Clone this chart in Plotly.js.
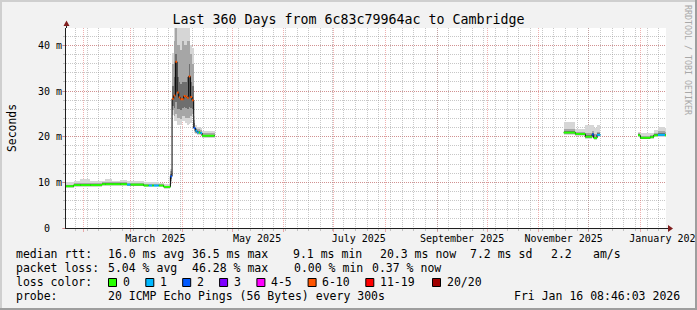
<!DOCTYPE html>
<html><head><meta charset="utf-8">
<script src="https://cdn.plot.ly/plotly-3.0.1.min.js"></script>
<style>html,body{margin:0;padding:0;background:#f2f2f2;}#chart{width:697px;height:310px;}</style>
</head><body><div id="chart"></div>
<script>
// ---------------- data ----------------
const rangeStart = '2025-01-21 08:46:03';
const rangeEnd   = '2026-01-16 08:46:03';

const runStart = [
 '2025-01-21 08:46','2025-01-26','2025-01-30','2025-02-05','2025-02-12','2025-02-14','2025-02-18','2025-02-23','2025-02-27','2025-03-01',
 '2025-03-09','2025-03-12','2025-03-14','2025-03-15','2025-03-18','2025-03-21','2025-03-25',
 '2025-03-26','2025-03-27','2025-03-28','2025-03-29','2025-03-30','2025-03-31','2025-04-01','2025-04-02','2025-04-03','2025-04-04','2025-04-05','2025-04-06','2025-04-07',
 '2025-04-08','2025-04-09','2025-04-10','2025-04-11','2025-04-12','2025-04-13',
 '2025-11-16','2025-11-23','2025-11-29','2025-12-03','2025-12-04','2025-12-06',
 '2025-12-30 14:00','2026-01-01','2026-01-07','2026-01-09','2026-01-11 12:00','2026-01-15 18:00'
];
const runEnd = [
 '2025-01-26','2025-01-30','2025-02-05','2025-02-12','2025-02-14','2025-02-18','2025-02-23','2025-02-27','2025-03-01','2025-03-09',
 '2025-03-12','2025-03-14','2025-03-15','2025-03-18','2025-03-21','2025-03-25','2025-03-26',
 '2025-03-27','2025-03-28','2025-03-29','2025-03-30','2025-03-31','2025-04-01','2025-04-02','2025-04-03','2025-04-04','2025-04-05','2025-04-06','2025-04-07','2025-04-08',
 '2025-04-09','2025-04-10','2025-04-11','2025-04-12','2025-04-13','2025-04-20 12:00',
 '2025-11-23','2025-11-29','2025-12-03','2025-12-04','2025-12-06','2025-12-08',
 '2026-01-01','2026-01-07','2026-01-09','2026-01-11 12:00','2026-01-15 18:00','2026-01-16 08:46'
];
// median rtt (ms)
const runMedian = [
 9.15,9.4,9.4,9.4,9.6,9.6,9.6,9.6,9.5,9.5,
 9.3,9.3,9.3,9.3,9.3,9.0,11.3,
 28.3,29.0,36.4,29.7,28.6,28.2,28.2,28.9,28.8,28.5,33.2,28.7,28.0,
 21.9,21.3,20.9,20.9,20.8,20.2,
 20.9,20.6,20.0,20.5,19.7,20.4,
 20.3,19.75,19.9,20.3,20.4,20.3
];
// loss bucket index (0:'0',1:'1',2:'2',3:'3',4:'4-5',5:'6-10',6:'11-19',7:'20/20')
const runLoss = [
 0,0,0,0,0,0,0,0,1,0,
 0,1,0,1,0,0,2,
 5,5,5,5,5,5,5,5,5,5,5,5,5,
 2,1,1,0,1,0,
 0,0,0,2,0,1,
 0,0,0,0,1,0
];
// smoke (ping spread, ms)
const smokeLo = [
 8.85,9.0,9.0,9.0,9.2,9.2,9.2,9.2,9.1,9.1,
 8.9,8.9,8.9,8.9,8.9,8.5,9.6,
 24.8,23.4,23.4,22.6,22.6,22.6,23.4,23.4,23.0,22.6,22.8,23.0,24.5,
 20.8,20.5,20.4,20.4,20.3,19.8,
 20.4,20.2,19.6,19.8,19.3,19.9,
 19.9,19.4,19.5,19.9,20.0,19.9
];
const smokeP10 = [
 9.0,9.2,9.2,9.2,9.4,9.4,9.4,9.4,9.3,9.3,
 9.1,9.1,9.1,9.1,9.1,8.7,10.2,
 25.8,24.5,25.0,24.0,24.0,23.8,24.5,24.5,24.2,24.0,24.2,24.5,25.0,
 21.3,20.8,20.6,20.6,20.5,20.0,
 20.6,20.4,19.8,20.0,19.5,20.1,
 20.1,19.5,19.7,20.1,20.2,20.1
];
const smokeQ1 = [
 9.1,9.3,9.3,9.3,9.5,9.5,9.5,9.5,9.4,9.4,
 9.2,9.2,9.2,9.2,9.2,8.9,10.8,
 26.8,26.2,27.5,26.0,26.0,25.8,26.2,26.5,26.2,26.0,26.5,26.2,26.0,
 21.6,21.0,20.7,20.7,20.6,20.1,
 20.7,20.5,19.9,20.2,19.6,20.2,
 20.2,19.6,19.8,20.2,20.3,20.2
];
const smokeQ3 = [
 9.3,9.55,9.6,9.6,9.8,9.8,9.8,9.8,9.7,9.7,
 9.5,9.5,9.5,9.5,9.5,9.2,11.8,
 31.0,33.0,38.0,33.0,32.0,31.5,32.0,32.0,32.0,33.0,36.0,32.0,31.0,
 23.0,21.6,21.2,21.2,21.0,20.4,
 21.2,20.9,20.3,20.8,20.0,20.7,
 20.5,19.9,20.1,20.5,20.7,20.5
];
const smokeP90 = [
 9.5,9.8,9.9,9.8,10.0,10.1,10.0,10.0,9.9,9.9,
 9.7,9.7,9.7,9.7,9.6,9.3,12.4,
 36.0,41.0,44.0,40.0,40.0,39.0,41.0,40.0,40.0,41.0,41.0,38.0,36.0,
 23.7,22.0,21.6,21.6,21.4,20.7,
 21.6,21.1,20.8,21.2,20.5,21.1,
 20.8,20.2,20.4,20.8,21.2,21.0
];
const smokeHi = [
 10.0,10.2,10.8,10.3,10.3,10.8,10.3,10.6,10.2,10.2,
 10.0,10.0,10.0,10.0,9.8,9.6,13.0,
 38.4,50,50,50,50,50,50,50,50,50,46,40.0,39.5,
 24.5,22.5,22.2,22.2,21.8,21.3,
 23.2,21.6,22.5,22.5,21.9,22.5,
 21.1,20.7,20.9,21.4,22.2,21.9
];

const lossLabels = ['0','1','2','3','4-5','6-10','11-19','20/20'];
const lossColors = ['#26ff00','#00b8ff','#0059ff','#7e00ff','#ff00ff','#ff5500','#ff0000','#a00000'];

const yTickVals = [0,10,20,30,40];
const yTickText = ['0\u00a0\u00a0','10 m','20 m','30 m','40 m'];

const titleText = 'Last 360 Days from 6c83c79964ac to Cambridge';
const yTitle = 'Seconds';
const rttLabel = 'median rtt:';
const rttStats = ['16.0 ms avg','36.5 ms max','9.1 ms min','20.3 ms now','7.2 ms sd','2.2','am/s'];
const lossLabel = 'packet loss:';
const lossStats = ['5.04 % avg','46.28 % max','0.00 % min','0.37 % now'];
const colorLabel = 'loss color:';
const probeLabel = 'probe:';
const probeText = '20 ICMP Echo Pings (56 Bytes) every 300s';
const stampText = 'Fri Jan 16 08:46:03 2026';
const watermark = 'RRDTOOL / TOBI OETIKER';

// ---------------- layout geometry ----------------
const L = 66, T = 28, W = 600, H = 200;
const pxX = x => (x - L) / W;
const pxY = y => 1 - (y - T) / H;
const FONT = 'DejaVu Sans Mono';
const rttX = [108,192.4,293.3,380,470.2,551,593.3];
const lossX = [108,192.4,294.2,372.4];
const swatchX = [108,145.3,182.2,219.1,256.4,307.6,365.3,432];

const toMs = s => Date.parse(s.replace(' ', 'T') + 'Z');

// ---------------- traces ----------------
const t0 = runStart.map(toMs), t1 = runEnd.map(toMs);
const mid = t0.map((v, i) => (v + t1[i]) / 2);
const wid = t0.map((v, i) => t1[i] - v);

function smokeBar(lo, hi, color) {
  return {type: 'bar', x: mid, width: wid, base: lo, y: hi.map((h, i) => h - lo[i]),
    marker: {color: color, line: {width: 0}}, hoverinfo: 'skip', showlegend: false};
}
const traces = [
  smokeBar(smokeLo, smokeHi, '#d6d6d6'),
  smokeBar(smokeP10, smokeP90, '#a6a6a6'),
  smokeBar(smokeQ1, smokeQ3, '#6e6e6e')
];

// median line (black, step)
const mx = [], my = [];
for (let i = 0; i < t0.length; i++) {
  mx.push(t0[i]); my.push(runMedian[i]);
  const gap = (i === t0.length - 1) || (t1[i] !== t0[i + 1]);
  if (gap) { mx.push(t1[i]); my.push(runMedian[i]); mx.push(null); my.push(null); }
}
traces.push({type: 'scatter', mode: 'lines', x: mx, y: my, line: {color: '#000000', width: 1, shape: 'hv'},
  hoverinfo: 'skip', showlegend: false, connectgaps: false});

// loss-coloured median segments
lossColors.forEach((c, b) => {
  const xs = [], ys = [];
  for (let i = 0; i < t0.length; i++) if (runLoss[i] === b) {
    xs.push(t0[i], t1[i], null); ys.push(runMedian[i], runMedian[i], null);
  }
  if (xs.length) traces.push({type: 'scatter', mode: 'lines', x: xs, y: ys,
    line: {color: c, width: 2}, hoverinfo: 'skip', showlegend: false, connectgaps: false});
});

// carrier for the weekly grid axis
traces.push({type: 'scatter', mode: 'lines', x: [toMs(rangeStart), toMs(rangeEnd)], y: [null, null],
  xaxis: 'x2', yaxis: 'y', hoverinfo: 'skip', showlegend: false});

// ---------------- annotations ----------------
const ann = [];
function txt(t, x, y, opts) {
  ann.push(Object.assign({text: t, xref: 'paper', yref: 'paper', x: pxX(x), y: pxY(y),
    xanchor: 'left', yanchor: 'middle', showarrow: false, borderpad: 0, borderwidth: 0,
    font: {family: FONT, size: 11.5, color: '#000'}}, opts || {}));
}
txt(rttLabel, 15.6, 254);
rttStats.forEach((s, i) => txt(s, rttX[i], 254));
txt(lossLabel, 15.6, 268);
lossStats.forEach((s, i) => txt(s, lossX[i], 268));
txt(colorLabel, 15.6, 282);
lossLabels.forEach((s, i) => txt(s, swatchX[i] + 14.5, 282));
txt(probeLabel, 15.6, 296);
txt(probeText, 108, 296);
txt(stampText, 680, 296, {xanchor: 'right'});
txt(watermark, 688, 60, {xanchor: 'center', textangle: 90, font: {family: FONT, size: 8.3, color: '#a8a8a8'}});

// ---------------- shapes (frame, swatches, arrows) ----------------
const shapes = [];
function rect(x0, y0, x1, y1, fill, line) {
  shapes.push({type: 'rect', xref: 'paper', yref: 'paper', x0: pxX(x0), x1: pxX(x1), y0: pxY(y0), y1: pxY(y1),
    fillcolor: fill, line: line || {width: 0}, layer: 'above'});
}
function path(pts, fill) {
  const d = pts.map((p, i) => (i ? 'L' : 'M') + pxX(p[0]) + ',' + pxY(p[1])).join(' ') + ' Z';
  shapes.push({type: 'path', xref: 'paper', yref: 'paper', path: d, fillcolor: fill, line: {width: 0}, layer: 'above'});
}
function seg(x0, y0, x1, y1, color) {
  shapes.push({type: 'line', xref: 'paper', yref: 'paper', x0: pxX(x0), x1: pxX(x1), y0: pxY(y0), y1: pxY(y1),
    line: {color: color, width: 1}, layer: 'above'});
}
rect(0, 0, 697, 2, '#cfcfcf');
rect(0, 0, 2, 310, '#cfcfcf');
rect(695, 0, 697, 310, '#9e9e9e');
rect(0, 308, 697, 310, '#9e9e9e');
swatchX.forEach((x, i) => rect(x + 0.5, 278.5, x + 8.5, 286.5, lossColors[i], {color: '#000', width: 1}));
seg(666, 228.5, 669, 228.5, '#1f1f1f');
seg(66.5, 28, 66.5, 25, '#1f1f1f');
path([[668, 225], [673, 228.5], [668, 232]], '#801f1f');
path([[63.5, 26], [66.5, 20.5], [69.5, 26]], '#801f1f');

// ---------------- layout ----------------
const GRID = 'rgba(143,143,143,0.5)';
const MGRID = 'rgba(222,79,79,0.45)';
const layout = {
  width: 697, height: 310,
  margin: {l: L, r: 697 - L - W, t: T, b: 310 - T - H, pad: 0},
  paper_bgcolor: '#f2f2f2', plot_bgcolor: '#ffffff',
  showlegend: false, barmode: 'overlay', bargap: 0,
  font: {family: FONT, size: 10, color: '#000'},
  title: {text: titleText, font: {family: FONT, size: 13.3, color: '#000'},
    xref: 'container', x: 0.5, xanchor: 'center', yref: 'container', y: 1 - 19.5 / 310, yanchor: 'middle'},
  xaxis: {
    type: 'date', range: [rangeStart, rangeEnd], fixedrange: true,
    dtick: 'M2', tick0: '2025-01-01', tickformat: '%B %Y', ticklabelshift: 25, ticklabeloverflow: 'allow',
    ticklabelstandoff: -2,
    showgrid: true, gridcolor: MGRID, griddash: '1px,1px', gridwidth: 1,
    ticks: 'outside', ticklen: 3, tickcolor: MGRID,
    minor: {dtick: 'M1', tick0: '2025-01-01', showgrid: true, gridcolor: MGRID, griddash: '1px,1px',
      ticks: 'outside', ticklen: 3, tickcolor: MGRID},
    showline: true, linecolor: '#1f1f1f', linewidth: 1, zeroline: false,
    tickfont: {family: FONT, size: 10, color: '#000'}
  },
  xaxis2: {
    type: 'date', range: [rangeStart, rangeEnd], overlaying: 'x', anchor: 'y', side: 'bottom', fixedrange: true,
    dtick: 7 * 86400000, tick0: '2025-01-20', showticklabels: false,
    showgrid: true, gridcolor: GRID, griddash: '1px,1px', gridwidth: 1,
    ticks: 'outside', ticklen: 2, tickcolor: GRID, showline: false, zeroline: false
  },
  yaxis: {
    range: [0, 43.8], fixedrange: true,
    tickmode: 'array', tickvals: yTickVals, ticktext: yTickText, ticklabelstandoff: -2,
    showgrid: true, gridcolor: MGRID, griddash: '1px,1px', gridwidth: 1,
    ticks: 'outside', ticklen: 3, tickcolor: MGRID,
    minor: {dtick: 2, tick0: 0, showgrid: true, gridcolor: GRID, griddash: '1px,1px', ticks: 'outside', ticklen: 2, tickcolor: GRID},
    showline: true, linecolor: '#1f1f1f', linewidth: 1, zeroline: false,
    tickfont: {family: FONT, size: 10, color: '#000'},
    title: {text: yTitle, font: {family: FONT, size: 11.4, color: '#000'}, standoff: 18}
  },
  annotations: ann,
  shapes: shapes
};

Plotly.newPlot('chart', traces, layout, {staticPlot: true, displayModeBar: false});
</script>
</body></html>
